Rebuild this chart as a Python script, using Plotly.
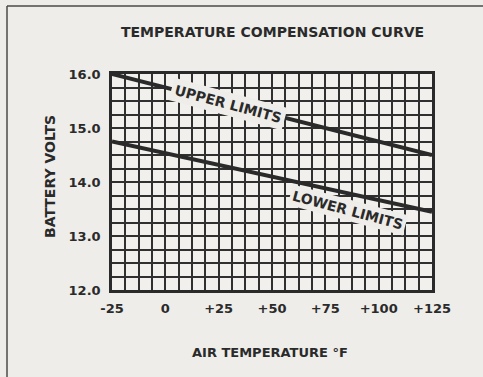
import plotly.graph_objects as go

# Temperature compensation limits for battery charging voltage
temps_f = [-25, 125]
upper_volts = [16.0, 14.5]
lower_volts = [14.75, 13.45]

x_tick_vals = [-25, 0, 25, 50, 75, 100, 125]
x_tick_text = ["-25", "0", "+25", "+50", "+75", "+100", "+125"]
y_tick_vals = [12, 13, 14, 15, 16]
y_tick_text = ["12.0", "13.0", "14.0", "15.0", "16.0"]

W, H = 483, 377
ML, MR, MT, MB = 112, 51, 74, 87
PW, PH = W - ML - MR, H - MT - MB

def px_x(p):
    return (p - ML) / PW

def px_y(p):
    return (H - MB - p) / PH

ink = "#2a2a2a"
grid_ink = "#303030"
paper = "#eeede9"
font_family = "DejaVu Sans"

fig = go.Figure()
for vals in (upper_volts, lower_volts):
    fig.add_trace(go.Scatter(
        x=temps_f, y=vals, mode="lines",
        line=dict(color=ink, width=4),
        showlegend=False, hoverinfo="skip",
    ))

grid = dict(showgrid=True, gridcolor=grid_ink, gridwidth=1.5)
fig.update_xaxes(
    range=[-25, 125], tickvals=x_tick_vals, ticktext=x_tick_text,
    ticks="", ticklabelstandoff=5, zeroline=False,
    showline=True, mirror=True, linecolor=ink, linewidth=2.5,
    minor=dict(dtick=6.25, showgrid=True, gridcolor=grid_ink, gridwidth=1.5),
    tickfont=dict(family=font_family, size=13, color=ink, weight="bold"),
    **grid,
)
fig.update_yaxes(
    range=[12, 16], tickvals=y_tick_vals, ticktext=y_tick_text,
    ticks="", ticklabelstandoff=6, zeroline=False,
    showline=True, mirror=True, linecolor=ink, linewidth=2.5,
    minor=dict(dtick=0.25, showgrid=True, gridcolor=grid_ink, gridwidth=1.5),
    tickfont=dict(family=font_family, size=13, color=ink, weight="bold"),
    **grid,
)

label_font = dict(family=font_family, size=14, color=ink, weight="bold")
fig.add_annotation(x=29.5, y=15.44, xref="x", yref="y", text="UPPER LIMITS",
                   textangle=15, showarrow=False, font=label_font,
                   bgcolor=paper, borderpad=3)
fig.add_annotation(x=85.5, y=13.49, xref="x", yref="y", text="LOWER LIMITS",
                   textangle=15, showarrow=False, font=label_font,
                   bgcolor=paper, borderpad=2)

centered = dict(xref="paper", yref="paper", xanchor="center", yanchor="middle",
                showarrow=False)
fig.add_annotation(x=px_x(272), y=px_y(32), text="TEMPERATURE COMPENSATION CURVE",
                   font=dict(family=font_family, size=14, color=ink, weight="bold"),
                   **centered)
fig.add_annotation(x=px_x(270), y=px_y(352), text="AIR TEMPERATURE °F",
                   font=dict(family=font_family, size=13, color=ink, weight="bold"),
                   **centered)
fig.add_annotation(x=px_x(50), y=px_y(177), text="BATTERY VOLTS", textangle=-90,
                   font=dict(family=font_family, size=14, color=ink, weight="bold"),
                   **centered)

# page frame
frame = dict(color="#4a4a4a", width=1.5)
fig.add_shape(type="line", xref="paper", yref="paper",
              x0=px_x(7), y0=px_y(6), x1=px_x(W + 5), y1=px_y(6), line=frame)
fig.add_shape(type="line", xref="paper", yref="paper",
              x0=px_x(7), y0=px_y(6), x1=px_x(7), y1=px_y(H + 5), line=frame)

fig.update_layout(
    width=W, height=H,
    margin=dict(l=ML, r=MR, t=MT, b=MB),
    paper_bgcolor=paper, plot_bgcolor="#f1f0ec",
)

fig.write_html("out.html")
